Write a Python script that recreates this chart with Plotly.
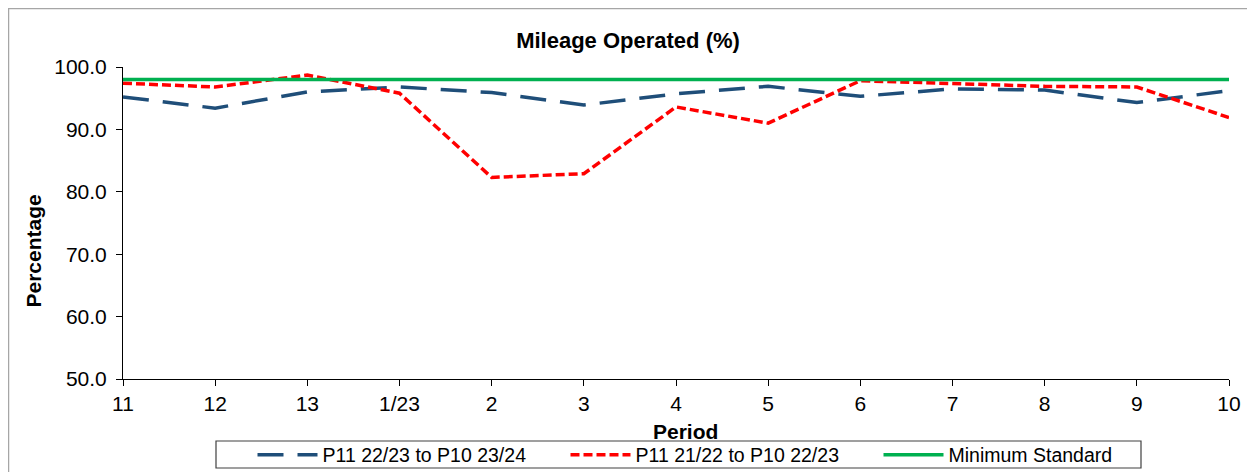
import plotly.graph_objects as go

periods = ["11", "12", "13", "1/23", "2", "3", "4", "5", "6", "7", "8", "9", "10"]
p11_2223_to_p10_2324 = [95.2, 93.4, 96.0, 96.8, 95.9, 93.9, 95.7, 96.9, 95.3, 96.5, 96.3, 94.3, 96.2]
p11_2122_to_p10_2223 = [97.4, 96.8, 98.7, 95.8, 82.3, 82.9, 93.6, 91.0, 97.8, 97.4, 96.9, 96.8, 91.9]
minimum_standard = [98.0] * len(periods)

FONT = "Arial, Liberation Sans, sans-serif"

# figure is placed at (8,8) on the page by the default body margin
W, H = 1247, 464
L, R, T, B = 115, 26, 59, 93
PW, PH = W - L - R, H - T - B


def px(x):
    return (x - L) / PW


def py(y):
    return (H - B - y) / PH


fig = go.Figure()
fig.add_trace(go.Scatter(x=periods, y=p11_2223_to_p10_2324, mode="lines",
                         name="P11 22/23 to P10 23/24",
                         line=dict(color="#1F4E79", width=3.5, dash="26px,14px")))
fig.add_trace(go.Scatter(x=periods, y=p11_2122_to_p10_2223, mode="lines",
                         name="P11 21/22 to P10 22/23",
                         line=dict(color="#FF0000", width=3.5, dash="9px,4px")))
fig.add_trace(go.Scatter(x=periods, y=minimum_standard, mode="lines",
                         name="Minimum Standard",
                         line=dict(color="#00B050", width=3.5)))

fig.update_layout(
    width=W, height=H,
    margin=dict(l=L, r=R, t=T, b=B),
    paper_bgcolor="white", plot_bgcolor="white",
    font=dict(family=FONT, size=21, color="black"),
    title=dict(text="<b>Mileage Operated (%)</b>", xref="container", x=620 / W,
               xanchor="center", yref="container", y=1 - 32 / H, yanchor="middle",
               font=dict(size=22)),
    showlegend=True,
    legend=dict(orientation="h", xref="container", yref="container",
                x=714 / W, xanchor="center", y=(H - 447) / H, yanchor="middle",
                borderwidth=0, bgcolor="rgba(0,0,0,0)",
                font=dict(size=19.5), entrywidth=238, entrywidthmode="pixels",
                itemwidth=60, tracegroupgap=0),
    xaxis=dict(type="category", range=[0, len(periods) - 1],
               showline=True, linecolor="black", linewidth=1,
               ticks="outside", ticklen=6, tickcolor="black",
               showgrid=False, zeroline=False),
    yaxis=dict(range=[50, 100], dtick=10, tickformat=".1f",
               showline=True, linecolor="black", linewidth=1,
               ticks="outside", ticklen=6, tickcolor="black",
               ticklabelstandoff=5,
               showgrid=False, zeroline=False),
    annotations=[
        dict(text="<b>Period</b>", xref="paper", yref="paper",
             x=px(677), y=py(423), xanchor="center", yanchor="middle",
             showarrow=False, font=dict(size=21)),
        dict(text="<b>Percentage</b>", xref="paper", yref="paper",
             x=px(25), y=py(243.5), xanchor="center", yanchor="middle",
             textangle=-90, showarrow=False, font=dict(size=21)),
    ],
    shapes=[
        dict(type="rect", xref="paper", yref="paper",
             x0=px(0.5), x1=px(1242), y0=py(470), y1=py(0.5),
             line=dict(color="#A6A6A6", width=1.5), layer="below"),
        dict(type="rect", xref="paper", yref="paper",
             x0=px(208), x1=px(1133), y0=py(460), y1=py(433),
             line=dict(color="#404040", width=1.2), layer="below"),
    ],
)

fig.write_html("out.html")
